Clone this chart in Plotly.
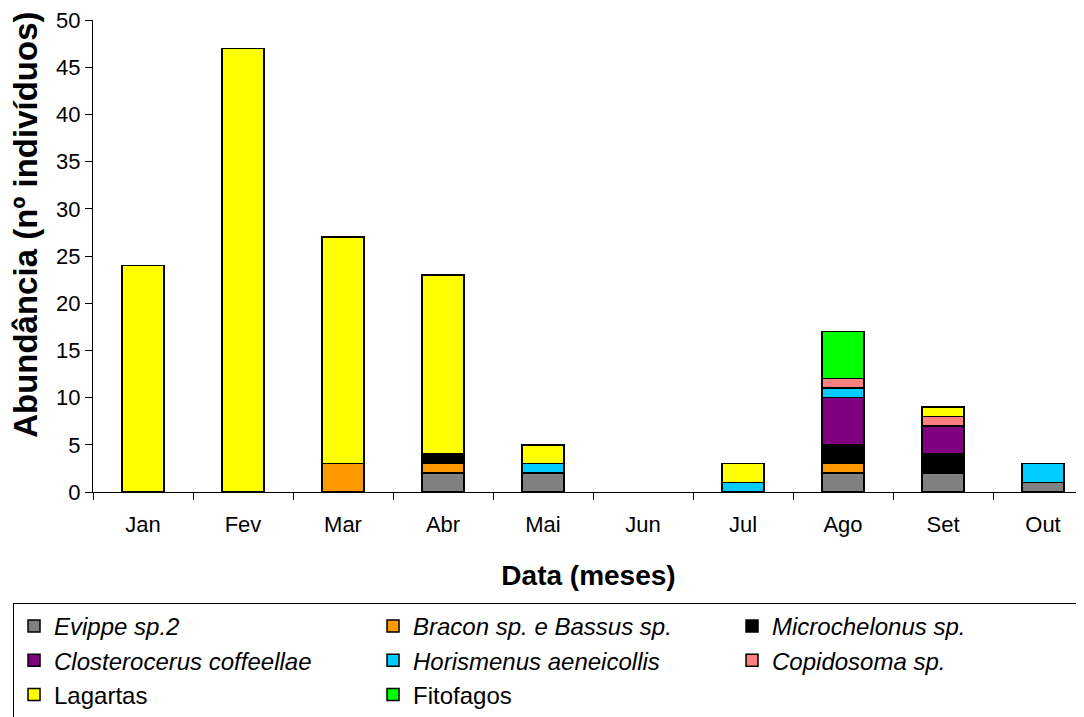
import plotly.graph_objects as go

FONT_FAMILY = "Liberation Sans, Arial, sans-serif"
TICK_FONT = {"size": 22, "color": "black", "family": FONT_FAMILY}
X_TITLE_FONT = {"size": 28, "color": "black", "family": FONT_FAMILY}
Y_TITLE_FONT = {"size": 33, "color": "black", "family": FONT_FAMILY}
LEGEND_FONT = {"size": 24, "color": "black", "family": FONT_FAMILY}

months = ["Jan", "Fev", "Mar", "Abr", "Mai", "Jun", "Jul", "Ago", "Set", "Out"]

evippe = [None, None, None, 2, 2, None, None, 2, 2, 1]
bracon = [None, None, 3, 1, None, None, None, 1, None, None]
microchelonus = [None, None, None, 1, None, None, None, 2, 2, None]
closterocerus = [None, None, None, None, None, None, None, 5, 3, None]
horismenus = [None, None, None, None, 1, None, 1, 1, None, 2]
copidosoma = [None, None, None, None, None, None, None, 1, 1, None]
lagartas = [24, 47, 24, 19, 2, None, 2, None, 1, None]
fitofagos = [None, None, None, None, None, None, None, 5, None, None]

series = [
    ("<i>Evippe sp.2</i>", evippe, "#808080"),
    ("<i>Bracon sp. e Bassus sp.</i>", bracon, "#FF9900"),
    ("<i>Microchelonus sp.</i>", microchelonus, "#000000"),
    ("<i>Closterocerus coffeellae</i>", closterocerus, "#800080"),
    ("<i>Horismenus aeneicollis</i>", horismenus, "#00CCFF"),
    ("<i>Copidosoma sp.</i>", copidosoma, "#FF8080"),
    ("Lagartas", lagartas, "#FFFF00"),
    ("Fitofagos", fitofagos, "#00FF00"),
]

data = []
for name, values, color in series:
    data.append(
        go.Bar(
            x=months,
            y=values,
            name=name,
            width=0.42,
            marker={"color": color, "line": {"color": "black", "width": 1.5}},
        )
    )

# the page body has an 8px margin, so the figure is a bit smaller than the window
layout = go.Layout(
    width=1076,
    height=709,
    barmode="stack",
    paper_bgcolor="white",
    plot_bgcolor="white",
    font={"family": FONT_FAMILY, "color": "black"},
    margin={"l": 85, "r": 0, "t": 12, "b": 225, "autoexpand": False},
    xaxis={
        "range": [-0.5, 9.41],
        "showgrid": False,
        "showline": True,
        "linecolor": "black",
        "linewidth": 1.2,
        "ticks": "outside",
        "tickson": "boundaries",
        "ticklen": 7,
        "tickcolor": "black",
        "tickfont": TICK_FONT,
        "ticklabelstandoff": 12,
        "title": {"text": "<b>Data (meses)</b>", "font": X_TITLE_FONT, "standoff": 29},
    },
    yaxis={
        "range": [0, 50],
        "dtick": 5,
        "showgrid": False,
        "zeroline": False,
        "showline": True,
        "linecolor": "black",
        "linewidth": 1.2,
        "ticks": "outside",
        "ticklen": 7,
        "tickcolor": "black",
        "tickfont": TICK_FONT,
        "ticklabeloverflow": "allow",
    },
    legend={
        "orientation": "h",
        "x": -0.0807,
        "xanchor": "left",
        "y": -0.235,
        "yanchor": "top",
        "font": LEGEND_FONT,
        "entrywidth": 314,
        "entrywidthmode": "pixels",
        "bordercolor": "black",
        "borderwidth": 1,
        "traceorder": "normal",
    },
    annotations=[
        go.layout.Annotation(
            text="<b>Abundância (nº indivíduos)</b>",
            textangle=-90,
            xref="paper",
            yref="paper",
            x=-0.0676,
            y=0.566,
            xanchor="center",
            yanchor="middle",
            showarrow=False,
            font=Y_TITLE_FONT,
        )
    ],
)

fig = go.Figure(data=data, layout=layout)
fig.write_html("out.html")
